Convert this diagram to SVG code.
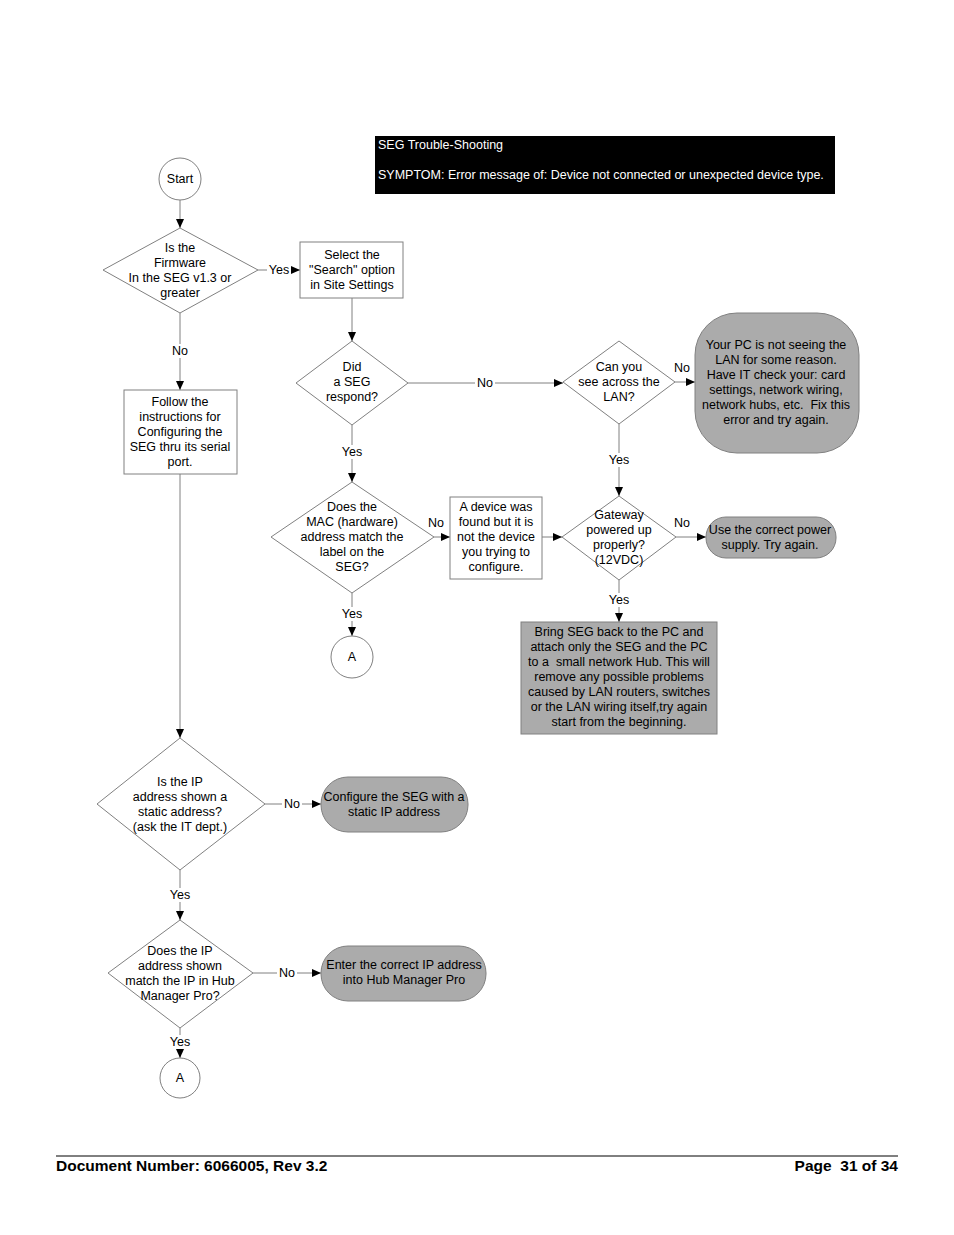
<svg xmlns="http://www.w3.org/2000/svg" width="954" height="1235" viewBox="0 0 954 1235">
<style>
text{font-family:"Liberation Sans",Arial,sans-serif;font-size:12.5px;fill:#000;text-anchor:middle}
.shape{fill:#fff;stroke:#808080;stroke-width:1}
.gray{fill:#ababab;stroke:#808080;stroke-width:1}
.ln{fill:none;stroke:#808080;stroke-width:1}
.lbl{fill:#fff;stroke:none}
.hdr{fill:#fff;text-anchor:start;font-size:12.5px}
.foot{font-weight:bold;font-size:15.5px}
</style>
<defs>
<marker id="ah" markerWidth="9" markerHeight="8" refX="9" refY="4" orient="auto" markerUnits="userSpaceOnUse">
<path d="M0,0 L9,4 L0,8 Z" fill="#000"/>
</marker>
</defs>
<rect width="954" height="1235" fill="#fff"/>

<g id="header">
<rect x="375" y="136" width="460" height="58" fill="#000"/>
<text class="hdr" x="378" y="149">SEG Trouble-Shooting</text>
<text class="hdr" x="378" y="179">SYMPTOM: Error message of: Device not connected or unexpected device type.</text>
</g>

<g id="connectors">
<line class="ln" x1="180" y1="200" x2="180" y2="228" marker-end="url(#ah)"/>
<line class="ln" x1="258" y1="270" x2="300" y2="270" marker-end="url(#ah)"/>
<line class="ln" x1="180" y1="313" x2="180" y2="390" marker-end="url(#ah)"/>
<line class="ln" x1="352" y1="298" x2="352" y2="341" marker-end="url(#ah)"/>
<line class="ln" x1="408" y1="383" x2="563" y2="383" marker-end="url(#ah)"/>
<line class="ln" x1="675" y1="382" x2="695" y2="382" marker-end="url(#ah)"/>
<line class="ln" x1="352" y1="425" x2="352" y2="482" marker-end="url(#ah)"/>
<line class="ln" x1="619" y1="424" x2="619" y2="496" marker-end="url(#ah)"/>
<line class="ln" x1="434" y1="537" x2="450" y2="537" marker-end="url(#ah)"/>
<line class="ln" x1="542" y1="537" x2="562" y2="537" marker-end="url(#ah)"/>
<line class="ln" x1="676" y1="537" x2="706" y2="537" marker-end="url(#ah)"/>
<line class="ln" x1="619" y1="580" x2="619" y2="622" marker-end="url(#ah)"/>
<line class="ln" x1="352" y1="593" x2="352" y2="636" marker-end="url(#ah)"/>
<line class="ln" x1="180" y1="474" x2="180" y2="738" marker-end="url(#ah)"/>
<line class="ln" x1="265" y1="804" x2="321" y2="804" marker-end="url(#ah)"/>
<line class="ln" x1="180" y1="870" x2="180" y2="920" marker-end="url(#ah)"/>
<line class="ln" x1="253" y1="973" x2="321" y2="973" marker-end="url(#ah)"/>
<line class="ln" x1="180" y1="1028" x2="180" y2="1058" marker-end="url(#ah)"/>
<g id="labels">
<rect class="lbl" x="267" y="263" width="24" height="14"/><text x="279" y="274">Yes</text>
<rect class="lbl" x="170" y="344" width="20" height="14"/><text x="180" y="355">No</text>
<rect class="lbl" x="475" y="376" width="20" height="14"/><text x="485" y="387">No</text>
<text x="682" y="372">No</text>
<rect class="lbl" x="340" y="445" width="24" height="14"/><text x="352" y="456">Yes</text>
<rect class="lbl" x="607" y="453" width="24" height="14"/><text x="619" y="464">Yes</text>
<text x="436" y="527">No</text>
<text x="682" y="527">No</text>
<rect class="lbl" x="607" y="593" width="24" height="14"/><text x="619" y="604">Yes</text>
<rect class="lbl" x="340" y="607" width="24" height="14"/><text x="352" y="618">Yes</text>
<rect class="lbl" x="282" y="797" width="20" height="14"/><text x="292" y="808">No</text>
<rect class="lbl" x="168" y="888" width="24" height="14"/><text x="180" y="899">Yes</text>
<rect class="lbl" x="277" y="966" width="20" height="14"/><text x="287" y="977">No</text>
<rect class="lbl" x="168" y="1035" width="24" height="14"/><text x="180" y="1046">Yes</text>
</g>
</g>

<g id="start">
<circle class="shape" cx="180" cy="179" r="21"/>
<text x="180" y="183">Start</text>
</g>

<g id="d-firmware">
<polygon class="shape" points="180,228 258,270 180,313 103,270"/>
<text x="180" y="252">Is the</text>
<text x="180" y="267">Firmware</text>
<text x="180" y="282">In the SEG v1.3 or</text>
<text x="180" y="297">greater</text>
</g>

<g id="b-select">
<rect class="shape" x="300" y="242" width="103" height="56"/>
<text x="352" y="259">Select the</text>
<text x="352" y="274">"Search" option</text>
<text x="352" y="289">in Site Settings</text>
</g>

<g id="b-follow">
<rect class="shape" x="124" y="390" width="113" height="84"/>
<text x="180" y="406">Follow the</text>
<text x="180" y="421">instructions for</text>
<text x="180" y="436">Configuring the</text>
<text x="180" y="451">SEG thru its serial</text>
<text x="180" y="466">port.</text>
</g>

<g id="d-respond">
<polygon class="shape" points="352,341 408,383 352,425 296,383"/>
<text x="352" y="371">Did</text>
<text x="352" y="386">a SEG</text>
<text x="352" y="401">respond?</text>
</g>

<g id="d-lan">
<polygon class="shape" points="619,341 675,382 619,424 563,382"/>
<text x="619" y="371">Can you</text>
<text x="619" y="386">see across the</text>
<text x="619" y="401">LAN?</text>
</g>

<g id="t-pc">
<rect class="gray" x="695" y="313" width="164" height="140" rx="42" ry="42"/>
<text x="776" y="349">Your PC is not seeing the</text>
<text x="776" y="364">LAN for some reason.</text>
<text x="776" y="379">Have IT check your: card</text>
<text x="776" y="394">settings, network wiring,</text>
<text x="776" y="409" xml:space="preserve">network hubs, etc.  Fix this</text>
<text x="776" y="424">error and try again.</text>
</g>

<g id="d-mac">
<polygon class="shape" points="352,482 434,537 352,593 271,537"/>
<text x="352" y="511">Does the</text>
<text x="352" y="526">MAC (hardware)</text>
<text x="352" y="541">address match the</text>
<text x="352" y="556">label on the</text>
<text x="352" y="571">SEG?</text>
</g>

<g id="b-device">
<rect class="shape" x="450" y="497" width="92" height="82"/>
<text x="496" y="511">A device was</text>
<text x="496" y="526">found but it is</text>
<text x="496" y="541">not the device</text>
<text x="496" y="556">you trying to</text>
<text x="496" y="571">configure.</text>
</g>

<g id="d-gateway">
<polygon class="shape" points="619,496 676,537 619,580 562,537"/>
<text x="619" y="519">Gateway</text>
<text x="619" y="534">powered up</text>
<text x="619" y="549">properly?</text>
<text x="619" y="564">(12VDC)</text>
</g>

<g id="t-power">
<rect class="gray" x="706" y="517" width="130" height="41" rx="20" ry="20"/>
<text x="770" y="534">Use the correct power</text>
<text x="770" y="549">supply. Try again.</text>
</g>

<g id="b-bring">
<rect class="gray" x="521" y="622" width="196" height="112"/>
<text x="619" y="636">Bring SEG back to the PC and</text>
<text x="619" y="651">attach only the SEG and the PC</text>
<text x="619" y="666" xml:space="preserve">to a  small network Hub. This will</text>
<text x="619" y="681">remove any possible problems</text>
<text x="619" y="696">caused by LAN routers, switches</text>
<text x="619" y="711">or the LAN wiring itself,try again</text>
<text x="619" y="726">start from the beginning.</text>
</g>

<g id="c-a1">
<circle class="shape" cx="352" cy="657" r="21"/>
<text x="352" y="661">A</text>
</g>

<g id="d-static">
<polygon class="shape" points="180,738 265,804 180,870 97,804"/>
<text x="180" y="786">Is the IP</text>
<text x="180" y="801">address shown a</text>
<text x="180" y="816">static address?</text>
<text x="180" y="831">(ask the IT dept.)</text>
</g>

<g id="t-configure">
<rect class="gray" x="321" y="777" width="147" height="55" rx="27" ry="27"/>
<text x="394" y="801">Configure the SEG with a</text>
<text x="394" y="816">static IP address</text>
</g>

<g id="d-match">
<polygon class="shape" points="180,920 253,973 180,1028 108,973"/>
<text x="180" y="955">Does the IP</text>
<text x="180" y="970">address shown</text>
<text x="180" y="985">match the IP in Hub</text>
<text x="180" y="1000">Manager Pro?</text>
</g>

<g id="t-enter">
<rect class="gray" x="321" y="946" width="165" height="55" rx="27" ry="27"/>
<text x="404" y="969">Enter the correct IP address</text>
<text x="404" y="984">into Hub Manager Pro</text>
</g>

<g id="c-a2">
<circle class="shape" cx="180" cy="1078" r="20"/>
<text x="180" y="1082">A</text>
</g>

<g id="footer">
<line x1="56" y1="1156" x2="898" y2="1156" stroke="#000" stroke-width="1"/>
<text class="foot" x="56" y="1171" style="text-anchor:start">Document Number: 6066005, Rev 3.2</text>
<text class="foot" x="898" y="1171" style="text-anchor:end" xml:space="preserve">Page  31 of 34</text>
</g>
</svg>
